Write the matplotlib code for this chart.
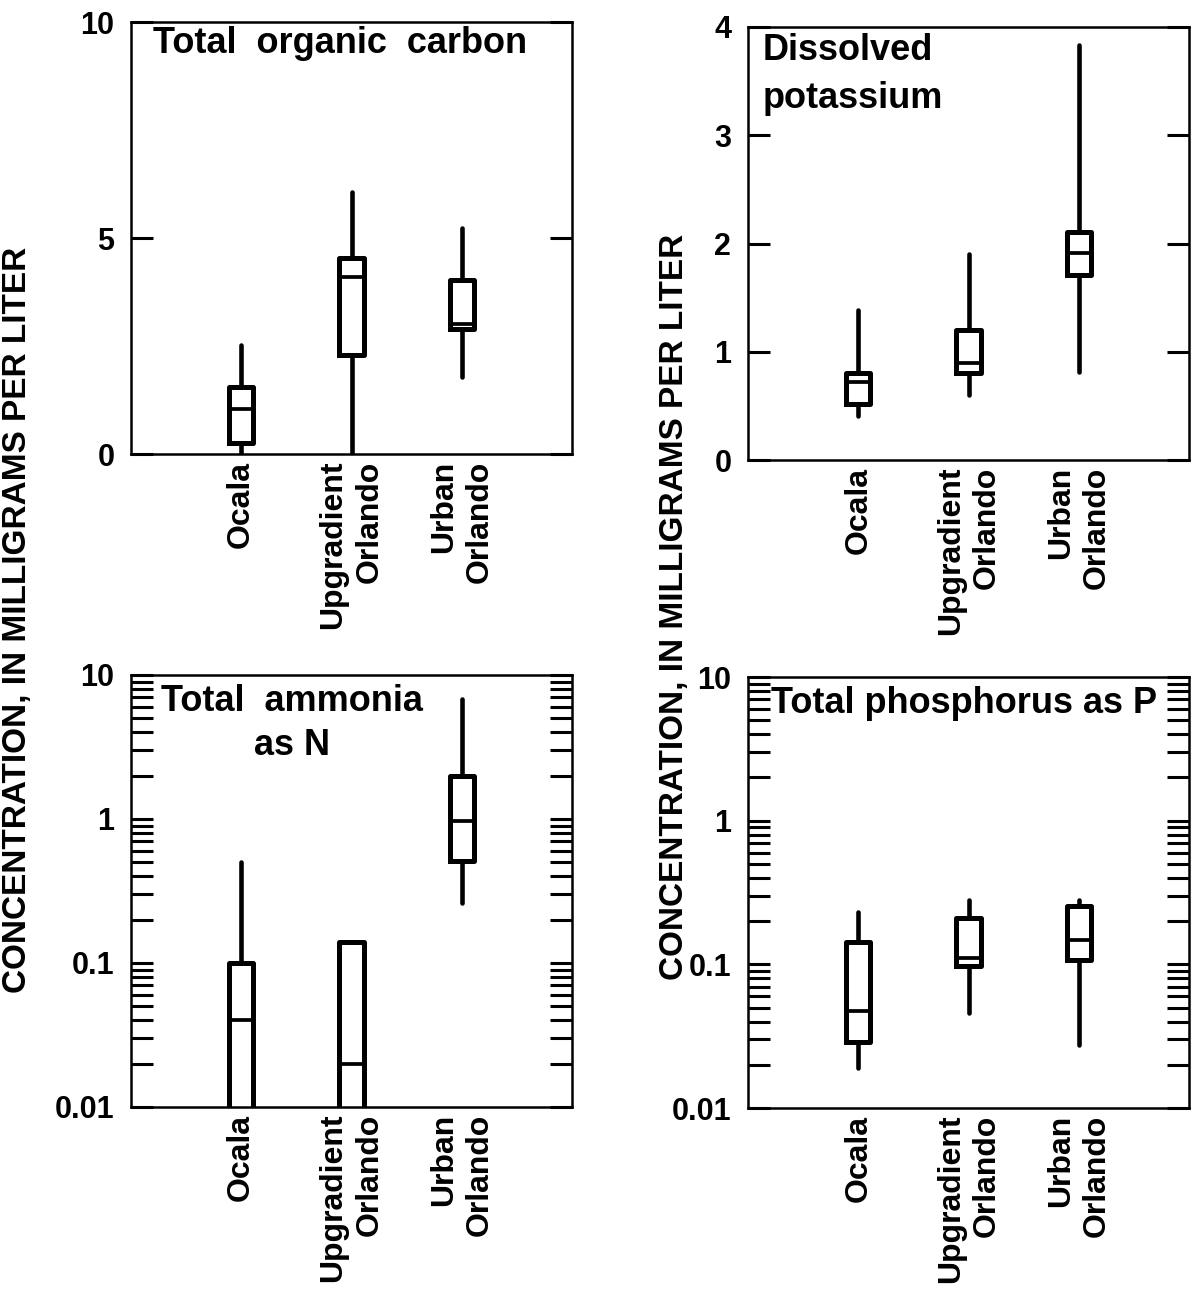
import matplotlib
matplotlib.use("Agg")
import matplotlib.pyplot as plt
from matplotlib.ticker import FixedLocator, LogLocator, NullFormatter, FixedFormatter

plt.rcParams["font.family"] = ["Liberation Sans", "DejaVu Sans"]
plt.rcParams["font.weight"] = "bold"

SITES = ["Ocala", "Upgradient\nOrlando", "Urban\nOrlando"]

# box statistics (mg/L); 0.001 = below the plotted range
toc_lo = [0.0, 0.0, 1.78]
toc_q1 = [0.25, 2.29, 2.90]
toc_med = [1.04, 4.10, 3.00]
toc_q3 = [1.55, 4.54, 4.03]
toc_hi = [2.52, 6.07, 5.23]

k_lo = [0.41, 0.60, 0.81]
k_q1 = [0.52, 0.80, 1.71]
k_med = [0.72, 0.90, 1.91]
k_q3 = [0.80, 1.20, 2.11]
k_hi = [1.39, 1.90, 3.83]

nh3_lo = [0.001, 0.001, 0.26]
nh3_q1 = [0.001, 0.001, 0.51]
nh3_med = [0.04, 0.02, 0.97]
nh3_q3 = [0.10, 0.14, 2.0]
nh3_hi = [0.50, 0.14, 6.8]

p_lo = [0.019, 0.046, 0.0275]
p_q1 = [0.029, 0.098, 0.108]
p_med = [0.047, 0.11, 0.148]
p_q3 = [0.143, 0.21, 0.255]
p_hi = [0.23, 0.28, 0.28]

W, H = 1192, 1290
fig = plt.figure(figsize=(W / 100, H / 100), dpi=100)


def px_axes(l, t, r, b):
    return fig.add_axes([l / W, 1 - b / H, (r - l) / W, (b - t) / H])


axA = px_axes(131, 22, 572, 454)
axB = px_axes(748, 27, 1189, 460)
axC = px_axes(131, 675, 572, 1107)
axD = px_axes(748, 677, 1189, 1108)

FS = 22     # tick numbers
XFS = 23    # site names
TFS = 26    # panel titles


def draw(ax, lo, q1, med, q3, hi):
    stats = [dict(whislo=a, q1=b, med=c, q3=d, whishi=e, fliers=[])
             for a, b, c, d, e in zip(lo, q1, med, q3, hi)]
    ax.bxp(stats, positions=[1, 2, 3], widths=0.22, showcaps=False,
           showfliers=False,
           boxprops=dict(color="black", lw=3.6, solid_joinstyle="round"),
           whiskerprops=dict(color="black", lw=3.3, solid_capstyle="round"),
           medianprops=dict(color="black", lw=2.7))
    ax.set_xlim(0, 4)
    ax.set_xticks([1, 2, 3])
    ax.set_xticklabels(SITES, rotation=90, va="top", ha="center",
                       multialignment="right", linespacing=1.25,
                       fontsize=XFS, fontweight="bold")
    ax.tick_params(axis="x", length=0, pad=5)
    ax.tick_params(axis="y", which="both", direction="in", left=True,
                   right=True, length=16, width=2.2, labelsize=FS, pad=12)
    for s in ax.spines.values():
        s.set_linewidth(1.8)


draw(axA, toc_lo, toc_q1, toc_med, toc_q3, toc_hi)
axA.set_ylim(0, 10)
axA.set_yticks([0, 5, 10])
axA.text(0.05, 0.99, "Total  organic  carbon", transform=axA.transAxes,
         ha="left", va="top", fontsize=TFS, fontweight="bold")

draw(axB, k_lo, k_q1, k_med, k_q3, k_hi)
axB.set_ylim(0, 4)
axB.set_yticks([0, 1, 2, 3, 4])
axB.text(0.034, 0.985, "Dissolved\npotassium", transform=axB.transAxes,
         ha="left", va="top", fontsize=TFS, fontweight="bold", linespacing=1.45)

for ax in (axC, axD):
    ax.set_yscale("log")
for ax, d in ((axC, (nh3_lo, nh3_q1, nh3_med, nh3_q3, nh3_hi)),
              (axD, (p_lo, p_q1, p_med, p_q3, p_hi))):
    draw(ax, *d)
    ax.set_ylim(0.01, 10)
    ax.yaxis.set_major_locator(FixedLocator([0.01, 0.1, 1, 10]))
    ax.yaxis.set_major_formatter(FixedFormatter(["0.01", "0.1", "1", "10"]))
    ax.yaxis.set_minor_locator(LogLocator(base=10, subs=range(2, 10)))
    ax.yaxis.set_minor_formatter(NullFormatter())

axC.text(0.365, 0.98, "Total  ammonia\nas N", transform=axC.transAxes,
         ha="center", va="top", fontsize=TFS, fontweight="bold",
         multialignment="center", linespacing=1.35)
axD.text(0.053, 0.98, "Total phosphorus as P", transform=axD.transAxes,
         ha="left", va="top", fontsize=TFS, fontweight="bold")

YLAB = "CONCENTRATION, IN MILLIGRAMS PER LITER"
fig.text(18 / W, 1 - 620 / H, YLAB, rotation=90, ha="center", va="center",
         fontsize=24, fontweight="bold")
fig.text(675 / W, 1 - 607 / H, YLAB, rotation=90, ha="center", va="center",
         fontsize=24, fontweight="bold")

fig.savefig("out.png", dpi=100)
